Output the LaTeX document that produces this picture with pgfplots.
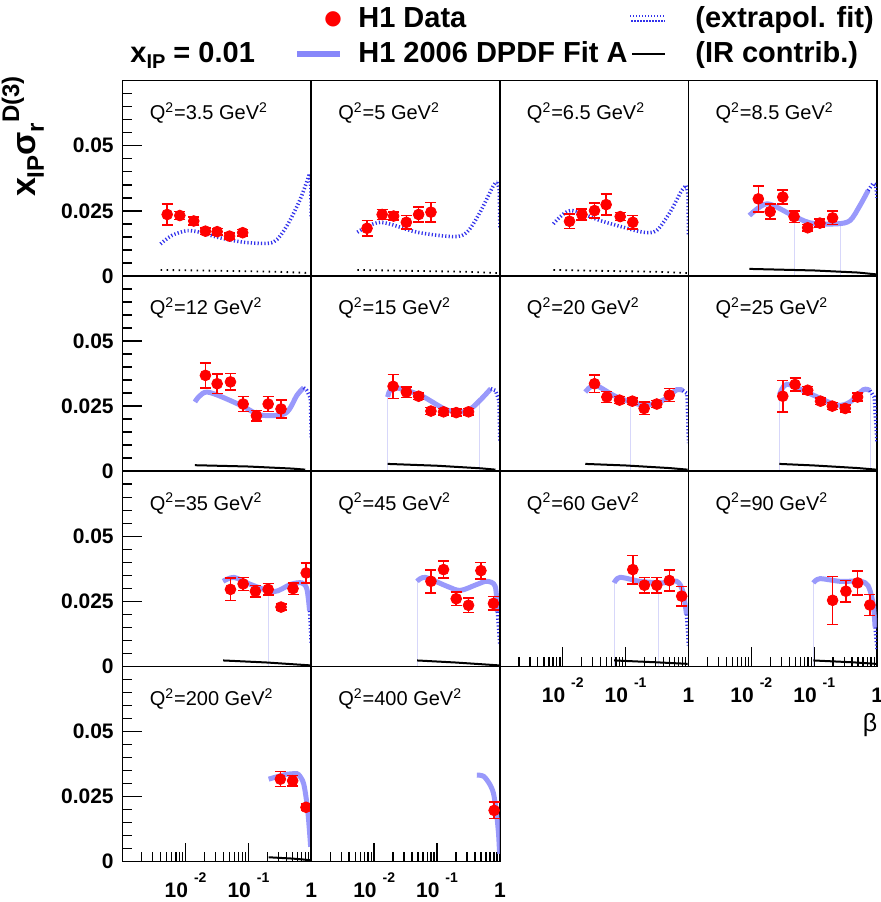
\documentclass[border=0pt]{standalone}
\usepackage{fontspec}
\setmainfont{Liberation Sans}
\newfontfamily\djv{DejaVu Sans}
\usepackage{pgfplots}
\pgfplotsset{compat=1.18}
\definecolor{fitblue}{RGB}{135,135,250}
\definecolor{extblue}{RGB}{50,50,235}
\definecolor{faint}{RGB}{215,215,250}
\newcommand\tl[1]{\textbf{10}\hspace{3pt}\raisebox{7.5pt}{\fontsize{7}{7}\selectfont\textbf{#1}}}
\newcommand\qlab[1]{Q\textsuperscript{2}=#1 GeV\textsuperscript{2}}
\def\common{scale only axis, width=94.3pt, height=97.625pt, anchor=south west,
   xmode=log, xmin=0.001, xmax=1, ymin=0, ymax=0.075,
   axis line style={line width=0.8pt}, xtick=\empty, ytick=\empty,
   tick align=inside, tick pos=left, scaled y ticks=false,
   tick style={black, line width=0.7pt}, major tick length=9.5pt, minor tick length=4.8pt}
\def\noopts{}
\def\yopts{ytick={0,0.025,0.05}, yticklabels={\textbf{0},\textbf{0.025},\textbf{0.05}},
   minor ytick={0.005,0.01,0.015,0.02,0.03,0.035,0.04,0.045,0.055,0.06,0.065,0.07},
   yticklabel style={font=\fontsize{10.5}{10.5}\selectfont, xshift=-1pt}}
\def\xopts{xtick={0.001,0.01,0.1,1}, xticklabels={{},{\tl{-2}},{\tl{-1}},{\textbf{1}}},
   minor xtick={0.002,0.003,0.004,0.005,0.006,0.007,0.008,0.009,0.02,0.03,0.04,0.05,0.06,0.07,0.08,0.09,0.2,0.3,0.4,0.5,0.6,0.7,0.8,0.9},
   xticklabel style={font=\fontsize{10.5}{10.5}\selectfont, anchor=base, yshift=-17.8pt}}
\def\xyopts{ytick={0,0.025,0.05}, yticklabels={\textbf{0},\textbf{0.025},\textbf{0.05}},
   minor ytick={0.005,0.01,0.015,0.02,0.03,0.035,0.04,0.045,0.055,0.06,0.065,0.07},
   yticklabel style={font=\fontsize{10.5}{10.5}\selectfont, xshift=-1pt},
   xtick={0.001,0.01,0.1,1}, xticklabels={{},{\tl{-2}},{\tl{-1}},{\textbf{1}}},
   minor xtick={0.002,0.003,0.004,0.005,0.006,0.007,0.008,0.009,0.02,0.03,0.04,0.05,0.06,0.07,0.08,0.09,0.2,0.3,0.4,0.5,0.6,0.7,0.8,0.9},
   xticklabel style={font=\fontsize{10.5}{10.5}\selectfont, anchor=base, yshift=-17.8pt}}
\newcommand\pbegin[2]{\edef\next{\noexpand\begin{axis}[\unexpanded\expandafter{\common},\unexpanded\expandafter{#2},at={\unexpanded{#1}}]}\next}
\tikzset{
 hfit/.style={color=fitblue, line width=2.5pt, opacity=0.85, smooth},
 hextr/.style={color=extblue, line width=1.8pt, dash pattern=on 0.6pt off 1.1pt},
 hirl/.style={black, line width=1pt},
 hird/.style={black, line width=0.9pt, dash pattern=on 0.8pt off 2.2pt},
 hfnt/.style={color=faint, line width=0.35pt},
}
\newcommand\dat{\addplot[red, only marks, mark=*, mark size=2.7pt,
   error bars/.cd, y dir=both, y explicit,
   error bar style={red, line width=0.75pt},
   error mark options={rotate=90, red, mark size=2.75pt, line width=0.75pt}]}
\newcommand\plab[1]{\node[anchor=base west, font=\fontsize{10}{10}\selectfont] at (rel axis cs:0.106,0.80) {\qlab{#1}};}
\begin{document}
\begin{tikzpicture}
\useasboundingbox (0,0) rectangle (440.5pt,451pt);
% ---------- legend ----------
\node[anchor=center, inner sep=0pt, text=red] at (166.5pt,441.5pt) {\djv\fontsize{10}{10}\selectfont ●};
\node[anchor=base west, inner sep=0pt, font=\fontsize{14.5}{14.5}\selectfont\bfseries] at (179pt,437pt) {H1 Data};
\draw[extblue, line width=1pt, dash pattern=on 0.6pt off 0.9pt] (315pt,443pt) -- (332.5pt,443pt);
\draw[extblue, line width=1pt, dash pattern=on 0.6pt off 0.9pt] (315.7pt,440.6pt) -- (332.5pt,440.6pt);
\node[anchor=base west, inner sep=0pt, font=\fontsize{14.5}{14.5}\selectfont\bfseries] at (347.5pt,437pt) {(extrapol. fit)};
\node[anchor=base west, inner sep=0pt, font=\fontsize{14.5}{14.5}\selectfont\bfseries] at (65pt,419.5pt) {x\raisebox{-3pt}{\fontsize{10}{10}\selectfont IP} = 0.01};
\draw[fitblue, line width=3pt] (148.5pt,424pt) -- (170pt,424pt);
\node[anchor=base west, inner sep=0pt, font=\fontsize{14.5}{14.5}\selectfont\bfseries] at (179pt,419.5pt) {H1 2006 DPDF Fit A};
\draw[black, line width=1pt] (316pt,424pt) -- (332.5pt,424pt);
\node[anchor=base west, inner sep=0pt, font=\fontsize{14.5}{14.5}\selectfont\bfseries] at (347.5pt,419.5pt) {(IR contrib.)};
% y label and beta
\node[rotate=90, anchor=base, inner sep=0pt, font=\fontsize{17}{17}\selectfont\bfseries] at (17.5pt,382.75pt)
  {x\raisebox{-4.5pt}{\fontsize{12}{12}\selectfont IP}σ\raisebox{-4.5pt}{\fontsize{12}{12}\selectfont r}\raisebox{8pt}{\fontsize{12}{12}\selectfont D(3)}};
\node[anchor=center, font=\fontsize{12.5}{12.5}\selectfont] at (435pt,88.5pt) {β};
% ---------- row 1 ----------
\pbegin{(61.35pt,313.03pt)}{\yopts}
\addplot[hextr, smooth] coordinates {(0.0040,0.0123) (0.0060,0.0155) (0.0106,0.0174) (0.018,0.0166) (0.0318,0.0149) (0.06,0.0135) (0.108,0.0127) (0.25,0.013) (0.41,0.0193) (0.67,0.0296) (0.93,0.039)};
\addplot[hextr] coordinates {(0.93,0.039) (0.985,0.034) (1,0.022)};
\addplot[hird] coordinates {(0.004,0.0023) (0.03,0.0020) (0.3,0.0016) (1,0.0011)};
\dat coordinates {(0.0051,0.0236) +- (0,0.004) (0.0081,0.0232) +- (0,0.0015) (0.0135,0.0211) +- (0,0.0015) (0.0207,0.0172) +- (0,0.0012) (0.0318,0.0170) +- (0,0.0012) (0.050,0.0153) +- (0,0.0012) (0.081,0.0166) +- (0,0.0012)};
\plab{3.5}
\end{axis}
\pbegin{(155.65pt,313.03pt)}{\noopts}
\addplot[hextr, smooth] coordinates {(0.0054,0.0168) (0.0126,0.0206) (0.048,0.0168) (0.183,0.0151) (0.30,0.0168) (0.485,0.0245) (0.79,0.0347) (0.91,0.036)};
\addplot[hextr] coordinates {(0.91,0.036) (0.98,0.033) (1,0.018)};
\addplot[hird] coordinates {(0.0054,0.0023) (0.03,0.0020) (0.3,0.0016) (1,0.0011)};
\dat coordinates {(0.0077,0.0183) +- (0,0.0029) (0.0134,0.0236) +- (0,0.0020) (0.0204,0.0230) +- (0,0.0015) (0.0325,0.0206) +- (0,0.0026) (0.051,0.0236) +- (0,0.0029) (0.080,0.0245) +- (0,0.0037)};
\plab{5}
\end{axis}
\pbegin{(249.95pt,313.03pt)}{\noopts}
\addplot[hextr, smooth] coordinates {(0.0071,0.020) (0.0132,0.0251) (0.039,0.0213) (0.092,0.0187) (0.19,0.0168) (0.31,0.0174) (0.51,0.0245) (0.78,0.0328) (0.93,0.0347)};
\addplot[hextr] coordinates {(0.93,0.0347) (0.985,0.031) (1,0.016)};
\addplot[hird] coordinates {(0.0071,0.0023) (0.03,0.0020) (0.3,0.0016) (1,0.0011)};
\dat coordinates {(0.0128,0.0210) +- (0,0.0028) (0.0202,0.0236) +- (0,0.0022) (0.032,0.0251) +- (0,0.0029) (0.049,0.0274) +- (0,0.0040) (0.082,0.0228) +- (0,0.0015) (0.13,0.0206) +- (0,0.0026)};
\plab{6.5}
\end{axis}
\pbegin{(344.25pt,313.03pt)}{\noopts}
\addplot[hfnt] coordinates {(0.0478,0) (0.0478,0.0225)};
\addplot[hfnt] coordinates {(0.263,0) (0.263,0.020)};
\addplot[hfit] coordinates {(0.0093,0.0232) (0.0176,0.0277) (0.0412,0.0238) (0.0857,0.0204) (0.228,0.0200) (0.372,0.0213) (0.532,0.027) (0.72,0.0328)};
\addplot[hextr] coordinates {(0.72,0.0328) (0.86,0.0355) (0.95,0.035) (1,0.030)};
\addplot[hirl] coordinates {(0.0093,0.0027) (0.1,0.0021) (0.5,0.0013) (0.97,0.0006)};
\dat coordinates {(0.0129,0.0296) +- (0,0.0050) (0.0199,0.0247) +- (0,0.0029) (0.0316,0.0303) +- (0,0.0027) (0.0478,0.0228) +- (0,0.0022) (0.0787,0.0185) +- (0,0.0012) (0.123,0.0203) +- (0,0.0015) (0.196,0.0223) +- (0,0.0026)};
\plab{8.5}
\end{axis}
% ---------- row 2 ----------
\pbegin{(61.35pt,215.4pt)}{\yopts}
\addplot[hfit] coordinates {(0.0141,0.0266) (0.0221,0.0304) (0.0746,0.0254) (0.155,0.0216) (0.386,0.0222) (0.593,0.0292) (0.757,0.0321)};
\addplot[hextr] coordinates {(0.757,0.0321) (0.85,0.031) (0.97,0.028) (1,0.013)};
\addplot[hirl] coordinates {(0.0141,0.0023) (0.1,0.0018) (0.5,0.0010) (0.8,0.0006)};
\dat coordinates {(0.0207,0.0368) +- (0,0.0048) (0.0318,0.0336) +- (0,0.0038) (0.0518,0.0343) +- (0,0.0032) (0.0824,0.0258) +- (0,0.0029) (0.134,0.0213) +- (0,0.0020) (0.206,0.0258) +- (0,0.0028) (0.33,0.0239) +- (0,0.0035)};
\plab{12}
\end{axis}
\pbegin{(155.65pt,215.4pt)}{\noopts}
\addplot[hfnt] coordinates {(0.0164,0) (0.0164,0.0285)};
\addplot[hfnt] coordinates {(0.473,0) (0.473,0.027)};
\addplot[hfit] coordinates {(0.0164,0.0285) (0.0204,0.0321) (0.054,0.0292) (0.144,0.0235) (0.298,0.0231) (0.485,0.0273) (0.718,0.0317)};
\addplot[hextr] coordinates {(0.718,0.0317) (0.85,0.031) (0.97,0.027) (1,0.011)};
\addplot[hirl] coordinates {(0.0164,0.0028) (0.1,0.0021) (0.5,0.0011) (0.85,0.0006)};
\dat coordinates {(0.020,0.0326) +- (0,0.0046) (0.0325,0.0304) +- (0,0.0020) (0.051,0.0288) +- (0,0.0013) (0.080,0.0231) +- (0,0.0013) (0.127,0.0228) +- (0,0.0013) (0.202,0.0225) +- (0,0.0013) (0.317,0.0228) +- (0,0.0013)};
\plab{15}
\end{axis}
\pbegin{(249.95pt,215.4pt)}{\noopts}
\addplot[hfnt] coordinates {(0.118,0) (0.118,0.026)};
\addplot[hfit] coordinates {(0.0228,0.0304) (0.0328,0.033) (0.0724,0.0285) (0.192,0.0254) (0.398,0.0273) (0.65,0.0313) (0.81,0.031)};
\addplot[hextr] coordinates {(0.81,0.031) (0.95,0.0298) (1,0.0108)};
\addplot[hirl] coordinates {(0.0228,0.0028) (0.1,0.0022) (0.5,0.0012) (0.97,0.0006)};
\dat coordinates {(0.032,0.0336) +- (0,0.0033) (0.0503,0.0285) +- (0,0.0022) (0.080,0.0273) +- (0,0.0013) (0.128,0.0269) +- (0,0.0013) (0.197,0.0241) +- (0,0.0024) (0.313,0.0258) +- (0,0.0013) (0.495,0.0292) +- (0,0.0025)};
\plab{20}
\end{axis}
\pbegin{(344.25pt,215.4pt)}{\noopts}
\addplot[hfnt] coordinates {(0.0279,0) (0.0279,0.029)};
\addplot[hfnt] coordinates {(0.767,0) (0.767,0.031)};
\addplot[hfit] coordinates {(0.0279,0.0292) (0.0366,0.0334) (0.0851,0.0298) (0.228,0.0254) (0.372,0.0266) (0.603,0.0313) (0.77,0.031)};
\addplot[hextr] coordinates {(0.77,0.031) (0.9,0.0285) (1,0.0108)};
\addplot[hirl] coordinates {(0.0279,0.0028) (0.1,0.0022) (0.5,0.0012) (0.97,0.0006)};
\dat coordinates {(0.0316,0.0288) +- (0,0.0060) (0.0495,0.0333) +- (0,0.0025) (0.0787,0.0311) +- (0,0.0015) (0.126,0.0269) +- (0,0.0013) (0.194,0.0250) +- (0,0.0013) (0.311,0.0241) +- (0,0.0013) (0.49,0.0285) +- (0,0.0015)};
\plab{25}
\end{axis}
% ---------- row 3 ----------
\pbegin{(61.35pt,117.78pt)}{\yopts}
\addplot[hfnt] coordinates {(0.206,0) (0.206,0.029)};
\addplot[hfit] coordinates {(0.0396,0.0327) (0.0589,0.0342) (0.108,0.0315) (0.252,0.0287) (0.465,0.0315) (0.711,0.0321) (0.853,0.0296) (0.94,0.0213)};
\addplot[hextr] coordinates {(0.94,0.0213) (1,0.0086)};
\addplot[hirl] coordinates {(0.0396,0.0023) (0.2,0.0015) (0.97,0.0004)};
\dat coordinates {(0.0518,0.0296) +- (0,0.0043) (0.0824,0.0317) +- (0,0.0025) (0.129,0.0289) +- (0,0.0022) (0.206,0.0296) +- (0,0.0022) (0.33,0.0228) +- (0,0.0012) (0.512,0.0299) +- (0,0.0022) (0.83,0.0359) +- (0,0.0038)};
\plab{35}
\end{axis}
\pbegin{(155.65pt,117.78pt)}{\noopts}
\addplot[hfnt] coordinates {(0.0481,0) (0.0481,0.0327)};
\addplot[hfit] coordinates {(0.0481,0.0327) (0.065,0.0342) (0.144,0.0308) (0.234,0.0292) (0.431,0.0315) (0.621,0.0327) (0.841,0.0308) (0.912,0.021)};
\addplot[hextr] coordinates {(0.912,0.021) (1,0.0082)};
\addplot[hirl] coordinates {(0.0481,0.0023) (0.2,0.0015) (0.97,0.0004)};
\dat coordinates {(0.080,0.0327) +- (0,0.0044) (0.127,0.0372) +- (0,0.0033) (0.202,0.0260) +- (0,0.0025) (0.317,0.0235) +- (0,0.0027) (0.499,0.0368) +- (0,0.0032) (0.79,0.0242) +- (0,0.0026)};
\plab{45}
\end{axis}
\pbegin{(249.95pt,117.78pt)}{\xopts}
\addplot[hfnt] coordinates {(0.0656,0) (0.0656,0.032)};
\addplot[hfnt] coordinates {(0.33,0) (0.33,0.032)};
\addplot[hfit] coordinates {(0.0656,0.0321) (0.0818,0.0342) (0.17,0.0327) (0.398,0.0321) (0.65,0.0327) (0.81,0.0289) (0.93,0.020)};
\addplot[hextr] coordinates {(0.93,0.020) (1,0.008)};
\addplot[hirl] coordinates {(0.0656,0.0023) (0.3,0.0016) (0.97,0.0010)};
\dat coordinates {(0.13,0.0372) +- (0,0.0055) (0.199,0.0312) +- (0,0.0029) (0.313,0.0312) +- (0,0.0029) (0.496,0.0330) +- (0,0.0040) (0.78,0.0270) +- (0,0.0038)};
\plab{60}
\end{axis}
\pbegin{(344.25pt,117.78pt)}{\xopts}
\addplot[hfnt] coordinates {(0.0966,0) (0.0966,0.032)};
\addplot[hfit] coordinates {(0.0966,0.0321) (0.123,0.0337) (0.256,0.0327) (0.532,0.0327) (0.72,0.031) (0.865,0.024) (0.93,0.015)};
\addplot[hextr] coordinates {(0.93,0.015) (1,0.006)};
\addplot[hirl] coordinates {(0.0966,0.0023) (0.4,0.0016) (0.97,0.0010)};
\dat coordinates {(0.196,0.0254) +- (0,0.0092) (0.319,0.0289) +- (0,0.0042) (0.49,0.0321) +- (0,0.0046) (0.767,0.0236) +- (0,0.0040)};
\plab{90}
\end{axis}
% ---------- row 4 ----------
\pbegin{(61.35pt,20.15pt)}{\xyopts}
\addplot[hfit] coordinates {(0.21,0.0317) (0.3,0.0328) (0.411,0.0336) (0.55,0.0338) (0.631,0.0334) (0.759,0.0298) (0.877,0.0197) (0.977,0.0057)};
\addplot[hirl] coordinates {(0.21,0.0017) (0.5,0.0012) (0.98,0.0006)};
\dat coordinates {(0.322,0.0317) +- (0,0.0029) (0.505,0.0311) +- (0,0.0020) (0.824,0.0209) +- (0,0.0013)};
\plab{200}
\end{axis}
\pbegin{(155.65pt,20.15pt)}{\xopts}
\addplot[hfit] coordinates {(0.43,0.0333) (0.55,0.0328) (0.68,0.030) (0.79,0.0263) (0.88,0.019) (0.95,0.0109) (0.99,0.003)};
\dat coordinates {(0.81,0.0197) +- (0,0.0032)};
\plab{400}
\end{axis}
\end{tikzpicture}
\end{document}
